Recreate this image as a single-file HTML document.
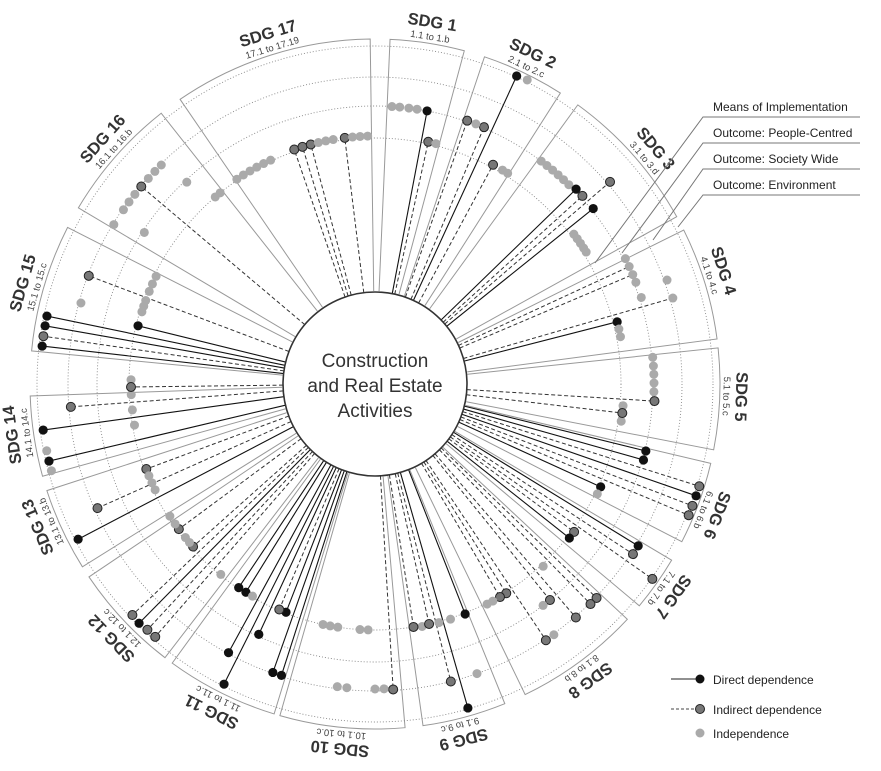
<!DOCTYPE html>
<html><head><meta charset="utf-8"><style>
html,body{margin:0;padding:0;background:#fff;}
svg{display:block;font-family:"Liberation Sans",Arial,sans-serif;}
</style></head><body>
<svg id="s" width="881" height="771" viewBox="0 0 881 771" xmlns="http://www.w3.org/2000/svg">
<g id="boxes"></g>
<g id="rings"></g>
<g id="lines"></g>
<circle cx="375" cy="384" r="92" fill="#fff" stroke="#333" stroke-width="1.6"/>
<g id="dots"></g>
<g id="labels"></g>
<text x="375" y="367" font-size="19" fill="#333" text-anchor="middle">Construction</text>
<text x="375" y="392" font-size="19" fill="#333" text-anchor="middle">and Real Estate</text>
<text x="375" y="417" font-size="19" fill="#333" text-anchor="middle">Activities</text>
<g stroke="#777" stroke-width="1" fill="none">
<polyline points="595,263 703,117 860,117"/>
<polyline points="622,253 703,143 860,143"/>
<polyline points="653,240 703,169 860,169"/>
<polyline points="678,227 703,195 860,195"/>
</g>
<g font-size="12" fill="#222">
<text x="713" y="111">Means of Implementation</text>
<text x="713" y="137">Outcome: People-Centred</text>
<text x="713" y="163">Outcome: Society Wide</text>
<text x="713" y="189">Outcome: Environment</text>
</g>
<line x1="671" y1="679" x2="700" y2="679" stroke="#222" stroke-width="1"/>
<circle cx="700" cy="679" r="4.5" fill="#111"/>
<line x1="671" y1="709" x2="700" y2="709" stroke="#444" stroke-width="1" stroke-dasharray="3,2"/>
<circle cx="700" cy="709" r="4.5" fill="#777" stroke="#222" stroke-width="1"/>
<circle cx="700" cy="733" r="4.5" fill="#aaa"/>
<g font-size="12" fill="#222">
<text x="713" y="684">Direct dependence</text>
<text x="713" y="714">Indirect dependence</text>
<text x="713" y="738">Independence</text>
</g>
</svg>
<script>
var CX=375,CY=384,NS="http://www.w3.org/2000/svg";
function P(a,r){var t=a*Math.PI/180;return [CX+r*Math.sin(t),CY-r*Math.cos(t)];}
function el(g,tag,at,txt){var e=document.createElementNS(NS,tag);for(var k in at)e.setAttribute(k,at[k]);if(txt)e.textContent=txt;document.getElementById(g).appendChild(e);return e;}
[246,278,307,338].forEach(function(r){el("rings","circle",{cx:CX,cy:CY,r:r,fill:"none",stroke:"#888","stroke-width":0.9,"stroke-dasharray":"1,2"});});
var segs=[[2.5,15,9,"SDG 1","1.1 to 1.b"],[18.5,32.5,25.5,"SDG 2","2.1 to 2.c"],[36,61,50,"SDG 3","3.1 to 3.d"],[63.5,82.5,72,"SDG 4","4.1 to 4.c"],[84,101,92,"SDG 5","5.1 to 5.c"],[103.3,117.2,111,"SDG 6","6.1 to 6.b"],[120.7,130,125.5,"SDG 7","7.1 to 7.b"],[133,154.2,144,"SDG 8","8.1 to 8.b"],[157.9,172,166,"SDG 9","9.1 to 9.c"],[175,196,185.5,"SDG 10","10.1 to 10.c"],[197,216,206.5,"SDG 11","11.1 to 11.c"],[217.5,236,226,"SDG 12","12.1 to 12.c"],[238,252,247,"SDG 13","13.1 to 13.b"],[254.5,268,262,"SDG 14","14.1 to 14.c"],[275.5,297,286,"SDG 15","15.1 to 15.c"],[300.7,321.7,312,"SDG 16","16.1 to 16.b"],[325.6,359.2,343,"SDG 17","17.1 to 17.19"]];
var R=345;
segs.forEach(function(s){
  var a=P(s[0],93),b=P(s[0],R),c=P(s[1],R),d=P(s[1],93);
  el("boxes","path",{d:"M"+a+" L"+b+" A"+R+" "+R+" 0 0 1 "+c+" L"+d,fill:"none",stroke:"#999","stroke-width":1});
  var p=P(s[2],366),q=P(s[2],351);
  el("labels","text",{x:p[0],y:p[1],"font-size":16.5,"font-weight":"bold",fill:"#333","text-anchor":"middle","dominant-baseline":"central",transform:"rotate("+s[2]+" "+p[0]+" "+p[1]+")"},s[3]);
  el("labels","text",{x:q[0],y:q[1],"font-size":9.5,fill:"#444","text-anchor":"middle","dominant-baseline":"central",transform:"rotate("+s[2]+" "+q[0]+" "+q[1]+")"},s[4]);
});
var D=[];
function add(t,r,arr){arr.forEach(function(a){D.push([a,r,t]);});}
function arc(t,r,a1,a2,st){for(var a=a1;a<=a2+0.01;a+=st)D.push([a,r,t]);}
add("N",278,[3.5,5.1,7,8.7]);add("D",278,[10.8]);add("I",248,[12.4]);add("N",248,[14.2]);
add("D",339,[24.7]);add("N",340,[26.6]);add("I",279,[19.3,23]);add("N",279,[21.2]);add("I",249,[28.3]);add("N",249,[30.8,32.2]);
add("N",278,[36.7,38.2,39.7,41.2,42.7,44.2]);add("D",280,[45.9,51.2]);add("I",280,[47.8]);add("I",310,[49.3]);add("N",249,[53,54.3,55.6,56.9,58]);
add("N",280,[63.4,68.7,72]);add("L",280,[65.2,67]);add("N",310,[70.4]);add("L",310,[73.9]);add("D",250,[75.6]);add("N",250,[77.3,79.1]);
add("N",279,[84.5,86.3,88,89.8,91.6]);add("I",280,[93.5]);add("N",249,[95,98.6]);add("I",249,[96.7]);
add("D",279,[103.9,105.8]);add("D",248,[114.5]);add("N",248,[116.3]);add("I",340,[107.5,111,112.7]);add("D",340,[109.2]);
add("D",309,[121.6]);add("I",309,[123.4]);add("I",339,[125.1]);add("I",248,[126.6]);add("D",248,[128.4]);
add("N",248,[137.3]);add("I",247,[147.9,149.6]);add("N",247,[151.5,153]);add("I",308,[134,135.6,139.3,146.3]);add("I",278,[141]);add("N",278,[142.8]);add("N",308,[144.5]);
add("D",247,[158.6]);add("N",247,[162.2,165,169]);add("I",246,[167.3,171]);add("D",337,[164]);add("N",307,[160.6]);add("I",307,[165.7]);
add("N",246,[181.6,183.5,188.7,190.5,192.2]);add("I",306,[176.6]);add("N",305,[178.3,180,185.3,187.1]);
add("D",245,[201.3,211.8,213.8]);add("I",245,[203]);add("D",276,[204.9]);add("D",306,[199.5,197.8,208.6]);add("D",336,[206.7]);add("N",245,[210,219]);
add("I",335,[226.4,222.8,221]);add("D",336,[224.6]);add("I",244,[228.2,233.5]);add("N",244,[229.5,231,235,237.2]);
add("D",335,[242.4]);add("I",304,[245.9]);add("I",244,[249.6]);add("N",244,[247.9,244.3,246.1]);
add("D",335,[256.7,262.1]);add("N",335,[255,258.5]);add("I",305,[265.7]);add("N",244,[260.3,263.9,267.5,271]);add("I",244,[269.3]);
add("D",335,[281.7,280,276.5]);add("I",335,[278.2]);add("D",244,[283.8]);add("N",244,[287.2,288.6,290,292.3,294.2,296.2]);add("I",306,[290.7]);add("N",305,[285.4]);
add("N",306,[315.7,314,312.2,308.3,306.5,304.7,301.4]);add("I",306,[310.2]);add("N",276,[317,303.3]);add("N",246,[319.5,321]);
arc("N",247,326,336,1.8);add("I",248,[341,343,345,353]);arc("N",248,346.8,352,1.75);arc("N",248,354.8,359,1.75);
D.forEach(function(d){
  var p=P(d[0],d[1]);
  if(d[2]!="N"){
    var q=P(d[0],92);
    var at={x1:q[0],y1:q[1],x2:p[0],y2:p[1],stroke:d[2]=="D"?"#111":"#333","stroke-width":d[2]=="D"?1.1:1};
    if(d[2]!="D")at["stroke-dasharray"]="4,2.5";
    el("lines","line",at);
  }
});
D.forEach(function(d){
  var p=P(d[0],d[1]);
  if(d[2]=="N"||d[2]=="L") el("dots","circle",{cx:p[0],cy:p[1],r:4.5,fill:"#aaa"});
  else if(d[2]=="D") el("dots","circle",{cx:p[0],cy:p[1],r:4.6,fill:"#111"});
  else el("dots","circle",{cx:p[0],cy:p[1],r:4.5,fill:"#777",stroke:"#222","stroke-width":1});
});
</script>
</body></html>
